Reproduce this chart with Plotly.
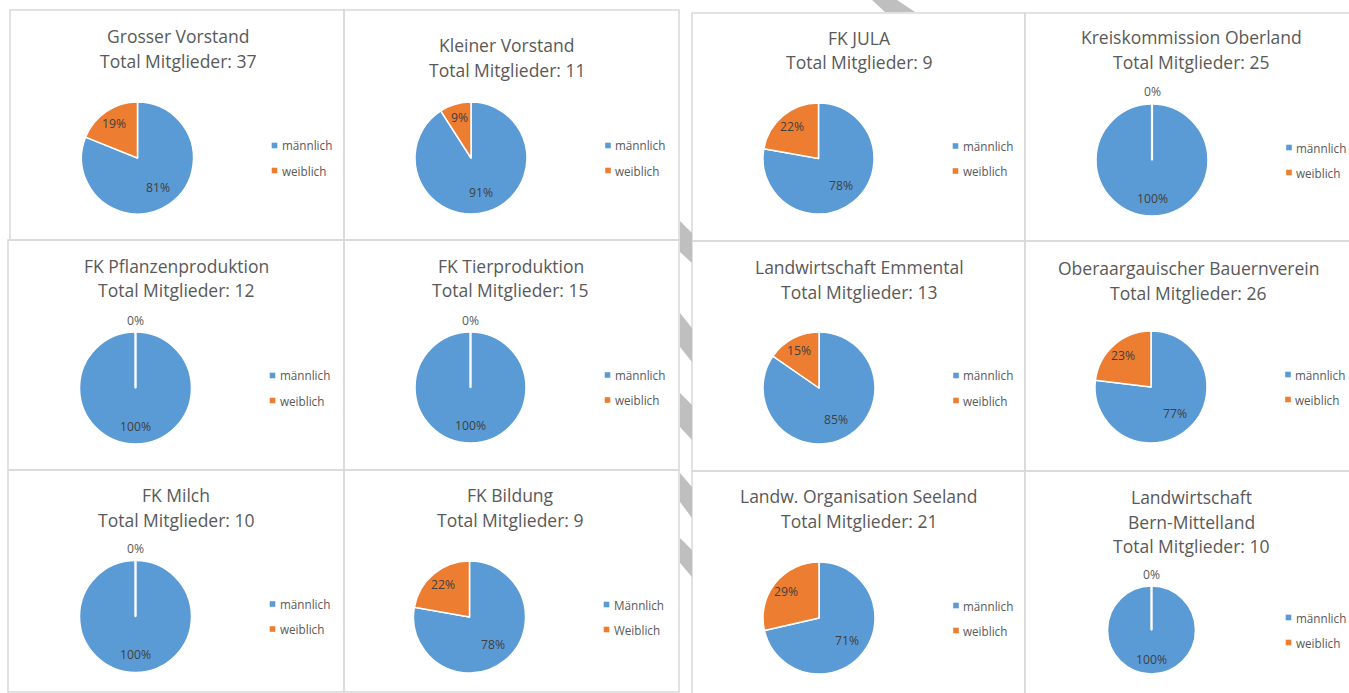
import math
import plotly.graph_objects as go

# ---------------- data ----------------
title_lines = [
    ["Grosser Vorstand"],
    ["Kleiner Vorstand"],
    ["FK JULA"],
    ["Kreiskommission Oberland"],
    ["FK Pflanzenproduktion"],
    ["FK Tierproduktion"],
    ["Landwirtschaft Emmental"],
    ["Oberaargauischer Bauernverein"],
    ["FK Milch"],
    ["FK Bildung"],
    ["Landw. Organisation Seeland"],
    ["Landwirtschaft", "Bern-Mittelland"],
]
maennlich = [30, 10, 7, 25, 12, 15, 11, 20, 10, 7, 15, 10]
weiblich = [7, 1, 2, 0, 0, 0, 2, 6, 0, 2, 6, 0]
legend_labels = [["männlich", "weiblich"]] * 9 + [["Männlich", "Weiblich"]] + [["männlich", "weiblich"]] * 2
colors = ["#5B9BD5", "#ED7D31"]

# ---------------- layout (pixels) ----------------
W, H = 1349, 693
panels = [  # x0, y0, x1, y1
    (10, 10, 344, 240), (344, 10, 679, 240), (692, 13, 1025, 241), (1025, 13, 1360, 241),
    (8, 240, 344, 470), (344, 240, 679, 470), (692, 241, 1025, 471), (1025, 241, 1360, 471),
    (8, 470, 344, 692), (344, 470, 679, 692), (692, 471, 1025, 700), (1025, 471, 1360, 700),
]
pie_cx = [137.5, 471, 818.5, 1152, 135.5, 470.5, 819, 1151, 135.5, 469.5, 819, 1151.5]
pie_cy = [158, 158, 158.5, 160, 388, 387.5, 388, 387, 616.5, 617, 618, 630]
pie_r = [56, 56, 55.5, 56, 56, 55.5, 56, 56, 56, 56, 56, 44]
title_x = [178, 507, 859, 1191, 176, 511, 859, 1188, 176, 511, 859, 1191]
title_y0 = [36, 45, 38, 37, 266, 266, 267, 268, 495, 495, 496, 497]
line_gap = 24.5

TITLE_FONT = dict(family="Open Sans", size=17.5, color="#595959")
LEG_FONT = dict(family="Open Sans", size=11.7, color="#595959")
LBL_FONT = dict(family="Open Sans", size=12.2, color="#404040")


def X(px):
    return px / W


def Y(py):
    return 1 - py / H


fig = go.Figure()
shapes = []
annotations = []

# panel borders
for (x0, y0, x1, y1) in panels:
    shapes.append(dict(type="rect", xref="paper", yref="paper",
                       x0=X(x0), x1=X(x1), y0=Y(y0), y1=Y(y1),
                       line=dict(color="#D9D9D9", width=1.5), fillcolor="rgba(0,0,0,0)",
                       layer="below"))

# decorative grey stripes (background artifacts of the screenshot)
stripes = [
    [(680, 221), (692, 233), (692, 263), (680, 252)],
    [(680, 313), (692, 328), (692, 362), (680, 347)],
    [(680, 393), (692, 405), (692, 440), (680, 427)],
    [(680, 473), (692, 487), (692, 518), (680, 502)],
    [(680, 538), (692, 550), (692, 577), (680, 563)],
    [(872, 0), (897, 0), (915, 12), (885, 12)],
]
for poly in stripes:
    path = "M " + " L ".join(f"{X(px):.5f},{Y(py):.5f}" for px, py in poly) + " Z"
    shapes.append(dict(type="path", xref="paper", yref="paper", path=path,
                       fillcolor="#BFBFBF", line=dict(width=0), layer="below"))

for i in range(len(maennlich)):
    vals = [maennlich[i], weiblich[i]]
    total = sum(vals)
    cx, cy, r = pie_cx[i], pie_cy[i], pie_r[i]
    fig.add_trace(go.Pie(
        values=vals, labels=legend_labels[i], sort=False, direction="clockwise",
        rotation=0, textinfo="none", showlegend=False,
        marker=dict(colors=colors, line=dict(color="white", width=1.5)),
        domain=dict(x=[X(cx - r), X(cx + r)], y=[Y(cy + r), Y(cy - r)]),
    ))

    # title
    lines = title_lines[i] + [f"Total Mitglieder: {total}"]
    for k, t in enumerate(lines):
        annotations.append(dict(text=t, x=X(title_x[i]), y=Y(title_y0[i] + k * line_gap),
                                xref="paper", yref="paper", showarrow=False,
                                xanchor="center", yanchor="middle", font=TITLE_FONT))

    # data labels
    cum = 0
    for j, v in enumerate(vals):
        frac = v / total
        pct = f"{round(frac * 100)}%"
        if v == 0:
            ang = math.radians(cum * 360)
            # white separator where the empty slice sits
            shapes.append(dict(type="line", xref="paper", yref="paper",
                               x0=X(cx), y0=Y(cy),
                               x1=X(cx + r * math.sin(ang)), y1=Y(cy - r * math.cos(ang)),
                               line=dict(color="white", width=2.2)))
            annotations.append(dict(text=pct, x=X(cx + (r + 12) * math.sin(ang)),
                                    y=Y(cy - (r + 12) * math.cos(ang)),
                                    xref="paper", yref="paper", showarrow=False,
                                    xanchor="center", yanchor="middle",
                                    font=dict(LBL_FONT, color="#595959")))
        else:
            mid = math.radians((cum + frac / 2) * 360)
            f = 0.68 if frac >= 0.999 else (0.64 if frac >= 0.5 else 0.75)
            annotations.append(dict(text=pct, x=X(cx + f * r * math.sin(mid)),
                                    y=Y(cy - f * r * math.cos(mid)),
                                    xref="paper", yref="paper", showarrow=False,
                                    xanchor="center", yanchor="middle", font=LBL_FONT))
        cum += frac

    # legend
    mx = cx + 137
    for j, lab in enumerate(legend_labels[i]):
        ly = cy - 12.5 + 25 * j
        shapes.append(dict(type="rect", xref="paper", yref="paper",
                           x0=X(mx - 2.8), x1=X(mx + 2.8), y0=Y(ly + 2.8), y1=Y(ly - 2.8),
                           fillcolor=colors[j], line=dict(width=0)))
        annotations.append(dict(text=lab, x=X(mx + 5), y=Y(ly), xref="paper", yref="paper",
                                showarrow=False, xanchor="left", yanchor="middle", font=LEG_FONT))

fig.update_layout(
    width=W, height=H, margin=dict(l=0, r=0, t=0, b=0),
    paper_bgcolor="white", plot_bgcolor="white",
    shapes=shapes, annotations=annotations, showlegend=False,
)

fig.write_html("out.html", config={"displayModeBar": False},
               post_script="document.body.style.margin='0';document.body.style.overflow='hidden';")
